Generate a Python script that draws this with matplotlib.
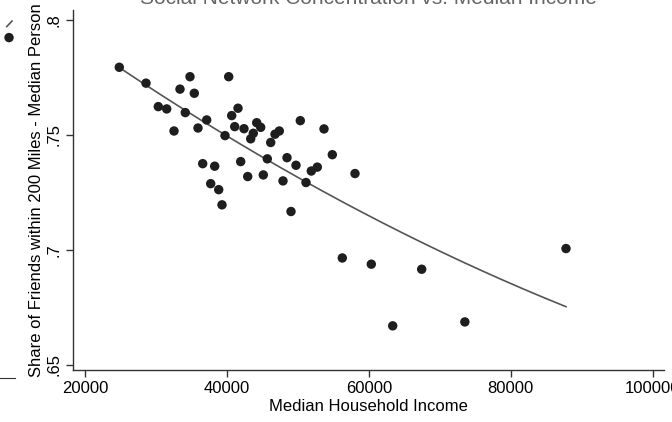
import numpy as np
import matplotlib
matplotlib.use("Agg")
import matplotlib.pyplot as plt

plt.rcParams['font.family'] = ['Liberation Sans', 'DejaVu Sans']

# Median household income (x) and share of friends within 200 miles (y)
income = [24834, 28597, 34799, 40253, 33389, 35405, 30331, 31515, 34136, 41564,
          40676, 32544, 37152, 35926, 41099, 42409, 44199, 44763, 43720, 43354,
          39732, 47385, 46779, 46173, 50344, 53685, 54855, 58054, 45693, 48470,
          49738, 51895, 52740, 51148, 36589, 38280, 41944, 42931, 45130, 47906,
          37716, 38844, 39309, 49034, 56264, 60351, 67454, 63367, 73535, 87792]
share = [0.7794, 0.7725, 0.7753, 0.7753, 0.7699, 0.7681, 0.7623, 0.7613, 0.7597, 0.7616,
         0.7584, 0.7517, 0.7565, 0.7530, 0.7536, 0.7527, 0.7553, 0.7533, 0.7507, 0.7483,
         0.7497, 0.7517, 0.7503, 0.7467, 0.7562, 0.7526, 0.7414, 0.7332, 0.7396, 0.7401,
         0.7368, 0.7343, 0.7360, 0.7293, 0.7375, 0.7364, 0.7384, 0.7319, 0.7326, 0.7300,
         0.7288, 0.7262, 0.7196, 0.7167, 0.6965, 0.6938, 0.6916, 0.6670, 0.6687, 0.7006]

# Fitted curve (income, share)
fit_x = [24792, 39732, 51148, 69089, 87792]
fit_y = [0.7796, 0.7497, 0.7293, 0.7014, 0.6751]

xticks = [20000, 40000, 60000, 80000, 100000]
xticklabels = ['20000', '40000', '60000', '80000', '100000']
yticks = [0.65, 0.70, 0.75, 0.80]
yticklabels = ['.65', '.7', '.75', '.8']

title = "Social Network Concentration vs. Median Income"

W, H = 672, 422
fig = plt.figure(figsize=(W / 100, H / 100), dpi=100)
fig.patch.set_facecolor('white')

# axes placement in pixels
L, R, T, B = 73, 664, 10, 370
ax = fig.add_axes([L / W, (H - B) / H, (R - L) / W, (B - T) / H])

ax.scatter(income, share, s=46, color='#1e1e1e', edgecolors='none', zorder=3)

coef = np.polyfit(fit_x, fit_y, 2)
xx = np.linspace(min(fit_x), max(fit_x), 200)
ax.plot(xx, np.polyval(coef, xx), color='#555555', lw=1.2, zorder=2)

ax.set_xlim(18309, 101604)
ax.set_ylim(0.6478, 0.8043)

for s in ['top', 'right']:
    ax.spines[s].set_visible(False)
for s in ['left', 'bottom']:
    ax.spines[s].set_color('#333333')
    ax.spines[s].set_linewidth(1.0)

ax.set_xticks(xticks)
ax.set_xticklabels(xticklabels, fontsize=12)
ax.set_yticks(yticks)
ax.set_yticklabels(yticklabels, fontsize=12, rotation=90, va='center')
ax.tick_params(axis='both', direction='out', length=5, width=1.0, color='#333333', pad=3)

ax.set_xlabel('Median Household Income', fontsize=12, labelpad=2)
ax.set_ylabel('Share of Friends within 200 Miles - Median Person', fontsize=12, labelpad=2)

fig.text(368 / W, 1 - 4 / H, title, ha='center', va='baseline', fontsize=15, color='#666666')

# remnant of neighbouring panel at the left edge
nb = fig.add_axes([-0.2, (H - 378) / H, 0.2 + 15 / W, (378 - 10) / H])
nb.set_xlim(0, 1)
nb.set_ylim(0, 1)
nb_point_x = [0.96]
nb_point_y = [0.925]
nb_line_x = [0.945, 0.98]
nb_line_y = [0.955, 0.97]
nb.scatter(nb_point_x, nb_point_y, s=46, color='#1e1e1e', edgecolors='none', clip_on=False)
nb.plot(nb_line_x, nb_line_y, color='#555555', lw=1.2, clip_on=False)
nb.set_xticks([])
nb.set_yticks([])
for s in ['top', 'right', 'left']:
    nb.spines[s].set_visible(False)
nb.spines['bottom'].set_color('#333333')
nb.patch.set_alpha(0)

fig.savefig('out.png', dpi=100)
